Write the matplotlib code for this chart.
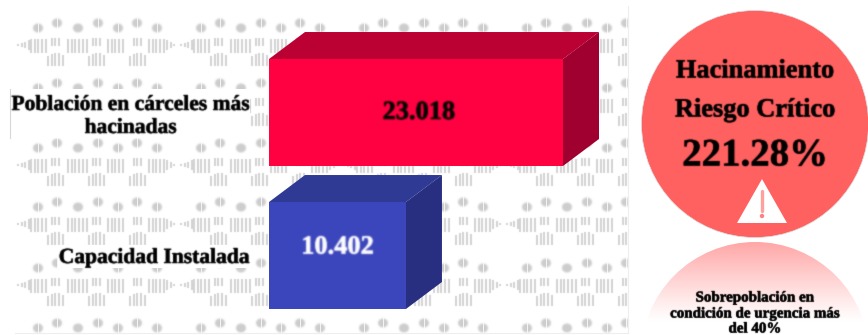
import numpy as np
import matplotlib
matplotlib.use("Agg")
import matplotlib.pyplot as plt
from matplotlib.patches import Polygon, Circle, Rectangle, Ellipse
from matplotlib.collections import LineCollection, PatchCollection
import matplotlib.patheffects as pe

categories = ["Población en cárceles más\nhacinadas", "Capacidad Instalada"]
values = [23018, 10402]
front_colors = ["#ff0040", "#3c46bc"]
top_colors = ["#bb0033", "#2f3a94"]
side_colors = ["#a00030", "#282f80"]
value_label_colors = ["#000000", "#ffffff"]
callout_title = ["Hacinamiento", "Riesgo Crítico"]
callout_value = "221.28%"
reflection_text = ["Sobrepoblación en", "condición de urgencia más", "del 40%"]

W, H = 868, 335
SERIF = "Liberation Serif"
fig = plt.figure(figsize=(W / 100, H / 100), dpi=100, facecolor="white")


def blur(color, sigma=0.8):
    """agg filter: soften an artist the way the scanned reference is soft."""
    rgb = matplotlib.colors.to_rgb(color)
    r = int(np.ceil(3 * sigma))
    k = np.exp(-0.5 * (np.arange(-r, r + 1) / sigma) ** 2)
    k /= k.sum()

    def f(img, dpi):
        a = np.pad(img[..., 3], r)
        a = np.apply_along_axis(lambda m: np.convolve(m, k, mode="same"), 0, a)
        a = np.apply_along_axis(lambda m: np.convolve(m, k, mode="same"), 1, a)
        out = np.zeros(a.shape + (4,))
        out[..., :3] = rgb
        out[..., 3] = a
        return out, -r, -r
    return f


def soften(text, color, stroke=0.35, sigma=0.6):
    text.set_path_effects([pe.withStroke(linewidth=stroke, foreground=color)])
    text.set_agg_filter(blur(color, sigma))


# pixel-space layer for the decorative background
bg = fig.add_axes([0, 0, 1, 1], zorder=0)
bg.set_xlim(0, W)
bg.set_ylim(H, 0)
bg.axis("off")

PAT = "#cdcdcd"
panel = Rectangle((15, 15), 613, 318, transform=bg.transData)
ovals = [(27, 13), (46, 8), (67, 13), (87, 8), (107, 13), (126, 8), (146, 13)]
oval_patches, oval_gaps, stripes = [], [], []
for oy in [15, 75, 135, 194, 255, 315]:
    for ox in [11, 174, 337, 500]:
        for dx, dy in ovals:
            oval_patches.append(Ellipse((ox + dx, oy + dy), 10, 9))
            if dx != 67:
                oval_gaps.append([(ox + dx, oy + dy - 6), (ox + dx, oy + dy + 6)])
        for x0, x1 in [(20, 36), (57, 76), (97, 112), (138, 155)]:
            for x in np.arange(x0, x1, 3.7):
                stripes.append([(ox + x, oy + 24), (ox + x, oy + 38)])
        for x0, x1, in [(37, 54), (78, 95), (119, 136)]:
            mid = (x0 + x1) / 2
            for x in np.arange(x0, x1, 3.7):
                top = oy + 37 + abs(x - mid) * 0.5
                stripes.append([(ox + x, top), (ox + x, oy + 51)])
                if abs(x - mid) < 6:
                    stripes.append([(ox + x, oy + 23), (ox + x, oy + 31)])
        for x in np.arange(7, 19, 3.7):
            h = 0.6 + 4.5 * (x - 7) / 12
            stripes.append([(ox + x, oy + 30 - h), (ox + x, oy + 30 + h)])
        for x in np.arange(156, 164, 3.7):
            h = 0.6 + 4.5 * (164 - x) / 8
            stripes.append([(ox + x, oy + 30 - h), (ox + x, oy + 30 + h)])

pc = PatchCollection(oval_patches, facecolor=PAT, edgecolor="none", zorder=1)
bg.add_collection(pc)
pc.set_clip_path(panel)
pc.set_agg_filter(blur(PAT, 0.9))
lc = LineCollection(stripes, colors=PAT, linewidths=1.25, zorder=1)
bg.add_collection(lc)
lc.set_clip_path(panel)
lc.set_agg_filter(blur(PAT, 0.55))
gaps = LineCollection(oval_gaps, colors="white", linewidths=0.7, alpha=0.8, zorder=1.5)
bg.add_collection(gaps)
gaps.set_clip_path(panel)

# white backing behind the two labels
bg.add_patch(Rectangle((10, 89), 240, 49, fc="white", ec="none", zorder=3))
bg.plot([9.5, 9.5], [89, 138], color="#d8d8d8", lw=0.8, zorder=3)
bg.add_patch(Rectangle((58, 245), 192, 23, fc="white", ec="none", zorder=3))
bg.plot([628, 628], [6, 333], color="#eeeeee", lw=0.8, zorder=3)
bg.plot([15, 628], [333, 333], color="#eeeeee", lw=0.8, zorder=3)

# bar chart, drawn through its own value and category axes
BAR_L, BAR_R = 269, 563
AX_T, AX_B = 41, 327
ax = fig.add_axes([BAR_L / W, 1 - AX_B / H, (BAR_R - BAR_L) / W, (AX_B - AX_T) / H], zorder=2)
ax.patch.set_visible(False)
x_base = -600
ax.set_xlim(x_base, max(values))
ax.set_ylim(1.5, -0.5)
ypos = np.arange(len(values))
bars = ax.barh(ypos, np.array(values) - x_base, left=x_base, height=0.748, color=front_colors, zorder=3)
for s in ax.spines.values():
    s.set_visible(False)
ax.xaxis.set_visible(False)
ax.set_yticks(ypos, categories)
ax.tick_params(axis="y", length=0, pad=13.7)
for t in ax.get_yticklabels():
    t.set(family=SERIF, fontweight="bold", fontsize=15.5, color="#000000", multialignment="center", zorder=5)
    soften(t, "black")

# depth of the 3D box, in data units
dx = 36 * (max(values) - x_base) / (BAR_R - BAR_L)
dy = 27 * 2 / (AX_B - AX_T)
for b, tc, sc in zip(bars, top_colors, side_colors):
    x0, x1 = b.get_x(), b.get_x() + b.get_width()
    yt, yb = min(b.get_y(), b.get_y() + b.get_height()), max(b.get_y(), b.get_y() + b.get_height())
    ax.add_patch(Polygon([(x0, yt), (x0 + dx, yt - dy), (x1 + dx, yt - dy), (x1, yt)],
                         fc=tc, ec="none", clip_on=False, zorder=2))
    ax.add_patch(Polygon([(x1, yt), (x1 + dx, yt - dy), (x1 + dx, yb - dy), (x1, yb)],
                         fc=sc, ec="none", clip_on=False, zorder=2))

offsets = [(2, 0), (0, 6)]
for b, v, c, off in zip(bars, values, value_label_colors, offsets):
    t = ax.annotate(f"{v:,}".replace(",", "."), (b.get_x() + b.get_width() / 2, b.get_y() + b.get_height() / 2),
                    xytext=off, textcoords="offset points", ha="center", va="center",
                    family=SERIF, fontweight="bold", fontsize=19, color=c, zorder=6)
    soften(t, c)

# right-hand callout
ov = fig.add_axes([0, 0, 1, 1], zorder=3)
ov.set_xlim(0, W)
ov.set_ylim(H, 0)
ov.axis("off")
ov.patch.set_visible(False)
CIRC = "#ff6060"
ov.add_patch(Circle((755, 124), 113.5, fc=CIRC, ec="#dddddd", lw=0.5))
ov.add_patch(Polygon([(762, 179), (737, 223), (787, 223)], fc="white", ec="none"))
ov.plot([762, 762], [191, 211], color="#ffa0a0", lw=2.4, solid_capstyle="round")
ov.add_patch(Circle((762, 216), 2.2, fc="#ff8080", ec="none"))

# fading mirror of the circle
rows = np.linspace(0, 1, 120)[:, None]
rgba = np.ones((120, 2, 4))
rgba[..., :3] = matplotlib.colors.to_rgb(CIRC)
rgba[..., 3] = np.clip(0.56 * (1 - rows) ** 1.1, 0, 1)
im = ov.imshow(rgba, extent=(640, 870, 322, 242), aspect="auto", zorder=1, interpolation="bilinear")
im.set_clip_path(Circle((755, 356), 114, transform=ov.transData))
ov.set_xlim(0, W)
ov.set_ylim(H, 0)

kw = dict(ha="center", va="center", family=SERIF, fontweight="bold", color="black", zorder=5)
soften(ov.text(755, 71, callout_title[0], fontsize=19, **kw), "black")
soften(ov.text(755, 110, callout_title[1], fontsize=19, **kw), "black")
soften(ov.text(755, 156, callout_value, fontsize=28, **kw), "black")
for y, s in zip([298, 314, 329], reflection_text):
    soften(ov.text(755, y, s, fontsize=10.8, **kw), "black", sigma=0.5)

fig.savefig("out.png", dpi=100, facecolor="white")
